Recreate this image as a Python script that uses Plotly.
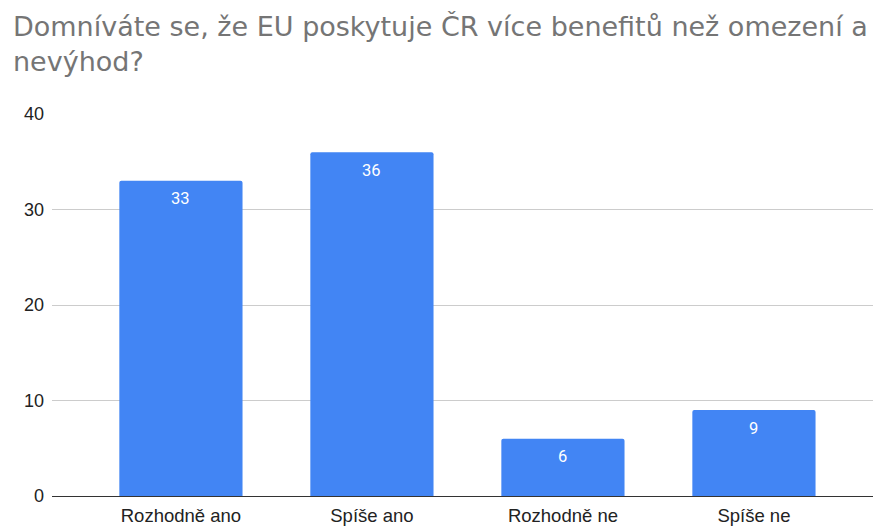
import plotly.graph_objects as go

categories = ["Rozhodně ano", "Spíše ano", "Rozhodně ne", "Spíše ne"]
values = [33, 36, 6, 9]
y_ticks = [0, 10, 20, 30, 40]

title_text = "Domníváte se, že EU poskytuje ČR více benefitů než omezení a<br>nevýhod?"

# page body has an 8px margin, so the figure is sized to fit the 881x526 window
W, H = 873, 518
ML, MR, MT, MB = 44, 1, 106, 30
plot_w = W - ML - MR
plot_h = H - MT - MB

fig = go.Figure()
fig.add_trace(go.Bar(
    x=list(range(len(categories))),
    y=values,
    marker=dict(color="#4285F4", line=dict(width=0)),
    width=0.645,
    hoverinfo="x+y",
))

annotations = []
for i, v in enumerate(values):
    annotations.append(dict(
        x=i, y=v, xref="x", yref="y", text=str(v), showarrow=False,
        yshift=-18, yanchor="middle",
        font=dict(family="Roboto, Arial, sans-serif", size=16.5, color="#ffffff"),
    ))

annotations.append(dict(
    text=title_text, showarrow=False, align="left",
    xref="paper", yref="paper",
    x=(3 - ML) / plot_w, xanchor="left",
    y=1 + (MT - 1) / plot_h, yanchor="top",
    font=dict(family="DejaVu Sans, sans-serif", size=27, color="#757575"),
))

fig.update_layout(
    width=W, height=H,
    margin=dict(l=ML, r=MR, t=MT, b=MB),
    paper_bgcolor="white", plot_bgcolor="white",
    barcornerradius=2,
    showlegend=False,
    annotations=annotations,
    xaxis=dict(
        range=[-0.675, 3.66],
        tickmode="array", tickvals=list(range(len(categories))), ticktext=categories,
        showgrid=False, zeroline=False, showline=False,
        tickfont=dict(family="Liberation Sans, Arial, sans-serif", size=18.5, color="#222222"),
        ticks="", ticklabelstandoff=6,
        fixedrange=True,
    ),
    yaxis=dict(
        range=[0, 40], tickmode="array", tickvals=y_ticks,
        showgrid=True, gridcolor="#cccccc", gridwidth=1,
        zeroline=True, zerolinecolor="#333333", zerolinewidth=1,
        showline=False, ticks="", ticklabelstandoff=7,
        tickfont=dict(family="Liberation Sans, Arial, sans-serif", size=18, color="#222222"),
        fixedrange=True,
    ),
)

fig.write_html("out.html")
